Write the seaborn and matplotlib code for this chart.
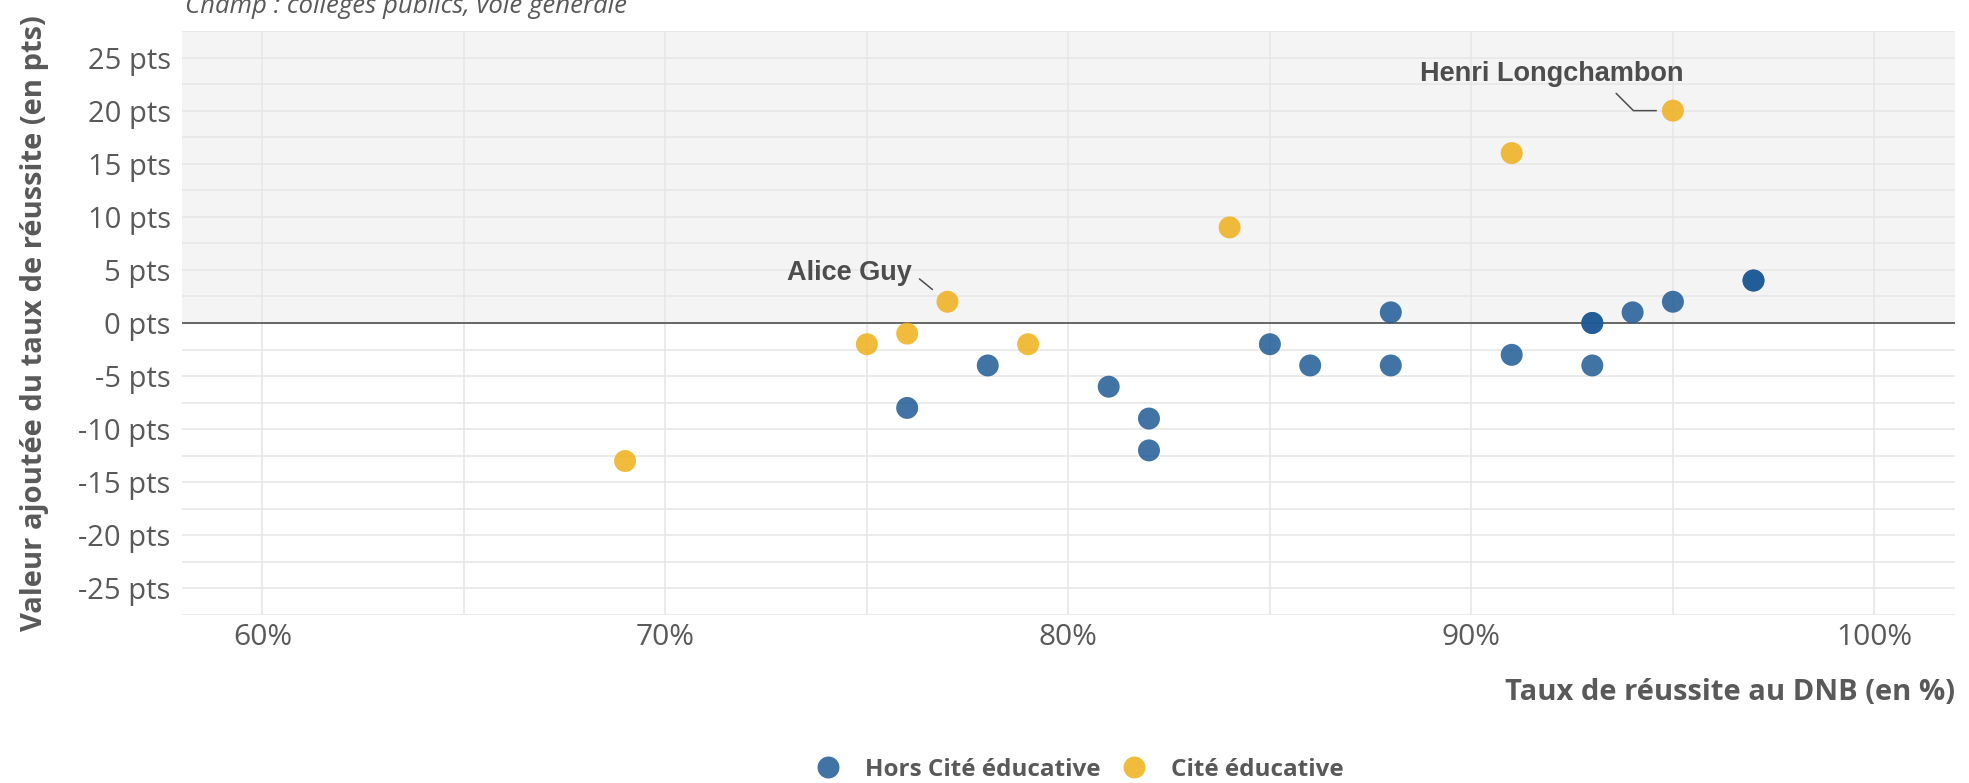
import pandas as pd
import seaborn as sns
import matplotlib.pyplot as plt

# data
hors_taux = [76, 78, 81, 82, 82, 85, 86, 88, 88, 91, 93, 93, 93, 94, 95, 97, 97]
hors_va = [-8, -4, -6, -9, -12, -2, -4, -4, 1, -3, -4, 0, 0, 1, 2, 4, 4]
cite_taux = [69, 75, 76, 77, 79, 84, 91, 95]
cite_va = [-13, -2, -1, 2, -2, 9, 16, 20]

groupes = ["Hors Cité éducative", "Cité éducative"]
couleurs = ["#1f5a96", "#efaf1a"]

noms = ["Alice Guy", "Henri Longchambon"]
noms_taux = [77, 95]
noms_va = [2, 20]

x_ticks = [60, 70, 80, 90, 100]
y_ticks = [25, 20, 15, 10, 5, 0, -5, -10, -15, -20, -25]

df = pd.concat([
    pd.DataFrame({"taux": hors_taux, "va": hors_va, "groupe": groupes[0]}),
    pd.DataFrame({"taux": cite_taux, "va": cite_va, "groupe": groupes[1]}),
])

sns.set_theme(style="white")
plt.rcParams["font.family"] = ["Open Sans", "DejaVu Sans"]

gris = "#595959"
fig = plt.figure(figsize=(19.69, 7.83), dpi=100)
ax = fig.add_axes([0.0923, 0.2146, 0.9006, 0.7458])

y_lim = (-27.5, 27.5)
x_lim = (58, 102)

# zone grisee au-dessus de zero
ax.axhspan(0, y_lim[1], color="#f4f4f4", zorder=0, lw=0)
ax.axhline(0, color="#505050", lw=1.2, zorder=1)

sns.scatterplot(
    data=df,
    x="taux",
    y="va",
    hue="groupe",
    hue_order=groupes,
    palette=dict(zip(groupes, couleurs)),
    s=250,
    alpha=0.85,
    linewidth=0,
    ax=ax,
    zorder=3,
)

ax.set_xlim(*x_lim)
ax.set_ylim(*y_lim)

# grille majeure + mineure
ax.set_xticks(x_ticks)
ax.set_xticks([65, 75, 85, 95], minor=True)
ax.set_yticks(y_ticks)
ax.set_yticks([v + 2.5 for v in y_ticks[1:]] + [27.5, -27.5], minor=True)
ax.set_axisbelow(True)
ax.grid(True, which="both", color="#e6e6e6", lw=1.1)
ax.tick_params(which="both", length=0)
ax.tick_params(axis="y", pad=8, labelsize=21, labelcolor=gris)
ax.tick_params(axis="x", pad=6, labelsize=21.5, labelcolor=gris)
ax.set_xticklabels([f"{v}%" for v in x_ticks])
ax.set_yticklabels([f"{v} pts" for v in y_ticks])
for s in ax.spines.values():
    s.set_visible(False)

ax.set_xlabel("Taux de réussite au DNB (en %)", fontsize=21, fontweight="bold", color=gris)
ax.xaxis.set_label_coords(1.0, -0.132)
ax.xaxis.label.set_ha("right")
ax.xaxis.label.set_va("center")
ax.set_ylabel("Valeur ajoutée du taux de réussite (en pts)", fontsize=21, fontweight="bold", color=gris)
ax.yaxis.set_label_coords(-0.083, 0.5)
ax.yaxis.label.set_va("center")

# etiquettes
ax.annotate(
    noms[0], xy=(noms_taux[0], noms_va[0]), xytext=(-70.6, 20.9), textcoords="offset points",
    ha="center", va="center", fontsize=19.5, fontweight="bold", color="#4d4d4d",
    family="Liberation Sans",
    arrowprops=dict(arrowstyle="-", color="#4d4d4d", lw=1.1, relpos=(1, 0.5), shrinkA=4, shrinkB=14),
)
ax.annotate(
    noms[1], xy=(noms_taux[1], noms_va[1]), xytext=(-87.1, 26.3), textcoords="offset points",
    ha="center", va="center", fontsize=19.5, fontweight="bold", color="#4d4d4d",
    family="Liberation Sans",
    arrowprops=dict(arrowstyle="-", color="#4d4d4d", lw=1.1, relpos=(0.72, 0), shrinkA=3, shrinkB=12,
                    connectionstyle="angle,angleA=-45,angleB=0,rad=0"),
)

fig.text(0.094, 1 - 12.7 / 783, "Champ : collèges publics, voie générale", style="italic",
         fontsize=18.5, color=gris, ha="left", va="baseline")

sns.move_legend(
    ax, "center", bbox_to_anchor=(0.503, -0.265), ncol=2, frameon=False, title=None,
    fontsize=17.5, handletextpad=0.5, columnspacing=0.4,
)
for t in ax.get_legend().get_texts():
    t.set_fontweight("bold")
    t.set_color(gris)

fig.savefig("out.png", dpi=100)
